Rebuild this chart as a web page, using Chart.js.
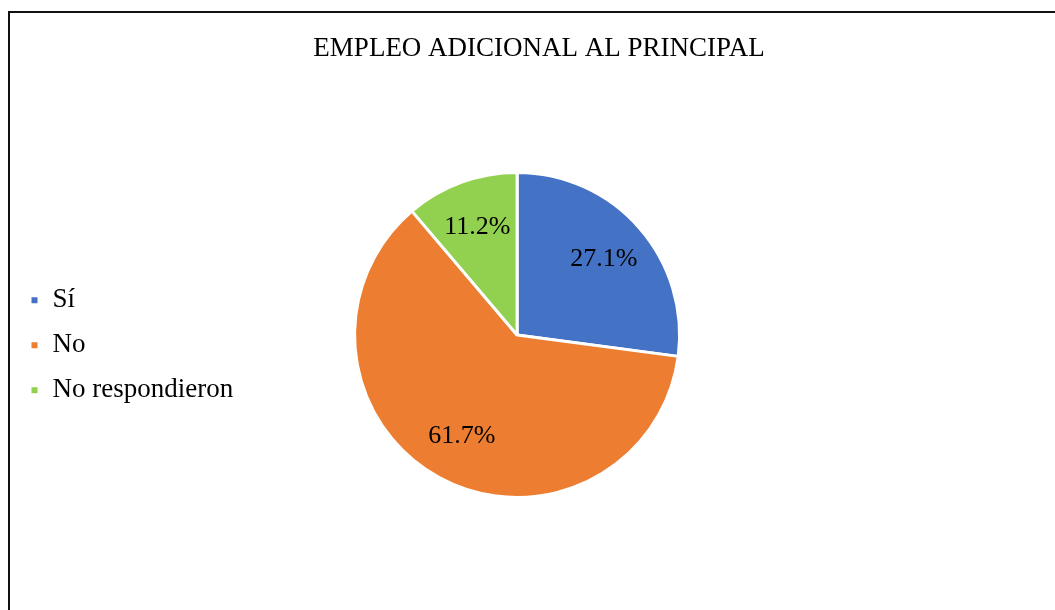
<!DOCTYPE html>
<html>
<head>
<meta charset="utf-8">
<script src="https://cdn.jsdelivr.net/npm/chart.js@4.4.1/dist/chart.umd.min.js"></script>
<style>
  html, body { margin: 0; padding: 0; background: #fff; overflow: hidden; }
  #marco { position: absolute; left: 8px; top: 11px; width: 1100px; height: 700px; border: 2px solid #111; }
  #wrap { position: absolute; left: 0; top: 0; width: 1055px; height: 610px; }
</style>
</head>
<body>
<div id="marco"></div>
<div id="wrap"><canvas id="grafico_pastel"></canvas></div>
<script>
const titulo = 'EMPLEO ADICIONAL AL PRINCIPAL'
const categorias = ['Sí', 'No', 'No respondieron']
const porcentajes = [27.1, 61.7, 11.2]
const colores = ['#4472C4', '#ED7D31', '#92D050']

Chart.defaults.font.family = '"Liberation Serif", "Times New Roman", serif'
Chart.defaults.color = '#000'

// título centrado en el marco (no sobre el área del gráfico)
const tituloMarco = {
  id: 'tituloMarco',
  afterDraw(chart) {
    const c = chart.ctx
    c.save()
    c.font = '27px "Liberation Serif", serif'
    c.fillStyle = '#000'
    c.textAlign = 'center'
    c.textBaseline = 'middle'
    c.fillText(titulo, 539, 49)
    c.restore()
  }
}

// etiquetas de porcentaje dentro de cada sector
const etiquetas = {
  id: 'etiquetas',
  afterDatasetsDraw(chart) {
    const c = chart.ctx
    const meta = chart.getDatasetMeta(0)
    c.save()
    c.font = '26px "Liberation Serif", serif'
    c.fillStyle = '#000'
    c.textAlign = 'center'
    c.textBaseline = 'middle'
    meta.data.forEach((arc, i) => {
      const p = arc.getProps(['x', 'y', 'startAngle', 'endAngle', 'outerRadius'], true)
      const mid = (p.startAngle + p.endAngle) / 2
      const r = p.outerRadius * 0.71
      c.fillText(porcentajes[i].toFixed(1) + '%', p.x + Math.cos(mid) * r, p.y + Math.sin(mid) * r)
    })
    c.restore()
  }
}

new Chart(document.getElementById('grafico_pastel'), {
  type: 'pie',
  data: {
    labels: categorias,
    datasets: [{
      data: porcentajes,
      backgroundColor: colores,
      borderColor: '#fff',
      borderWidth: 3
    }]
  },
  options: {
    responsive: true,
    maintainAspectRatio: false,
    animation: false,
    layout: { padding: { left: 12, right: 264, top: 171, bottom: 111 } },
    plugins: {
      title: { display: false },
      legend: {
        position: 'left',
        fullSize: false,
        // título vacío solo para bajar un poco las entradas
        title: { display: true, text: '', padding: 0, font: { size: 17 } },
        labels: {
          font: { size: 27 },
          boxWidth: 9,
          boxHeight: 9,
          padding: 18
        }
      },
      tooltip: { enabled: false }
    }
  },
  plugins: [etiquetas, tituloMarco]
})
</script>
</body>
</html>
